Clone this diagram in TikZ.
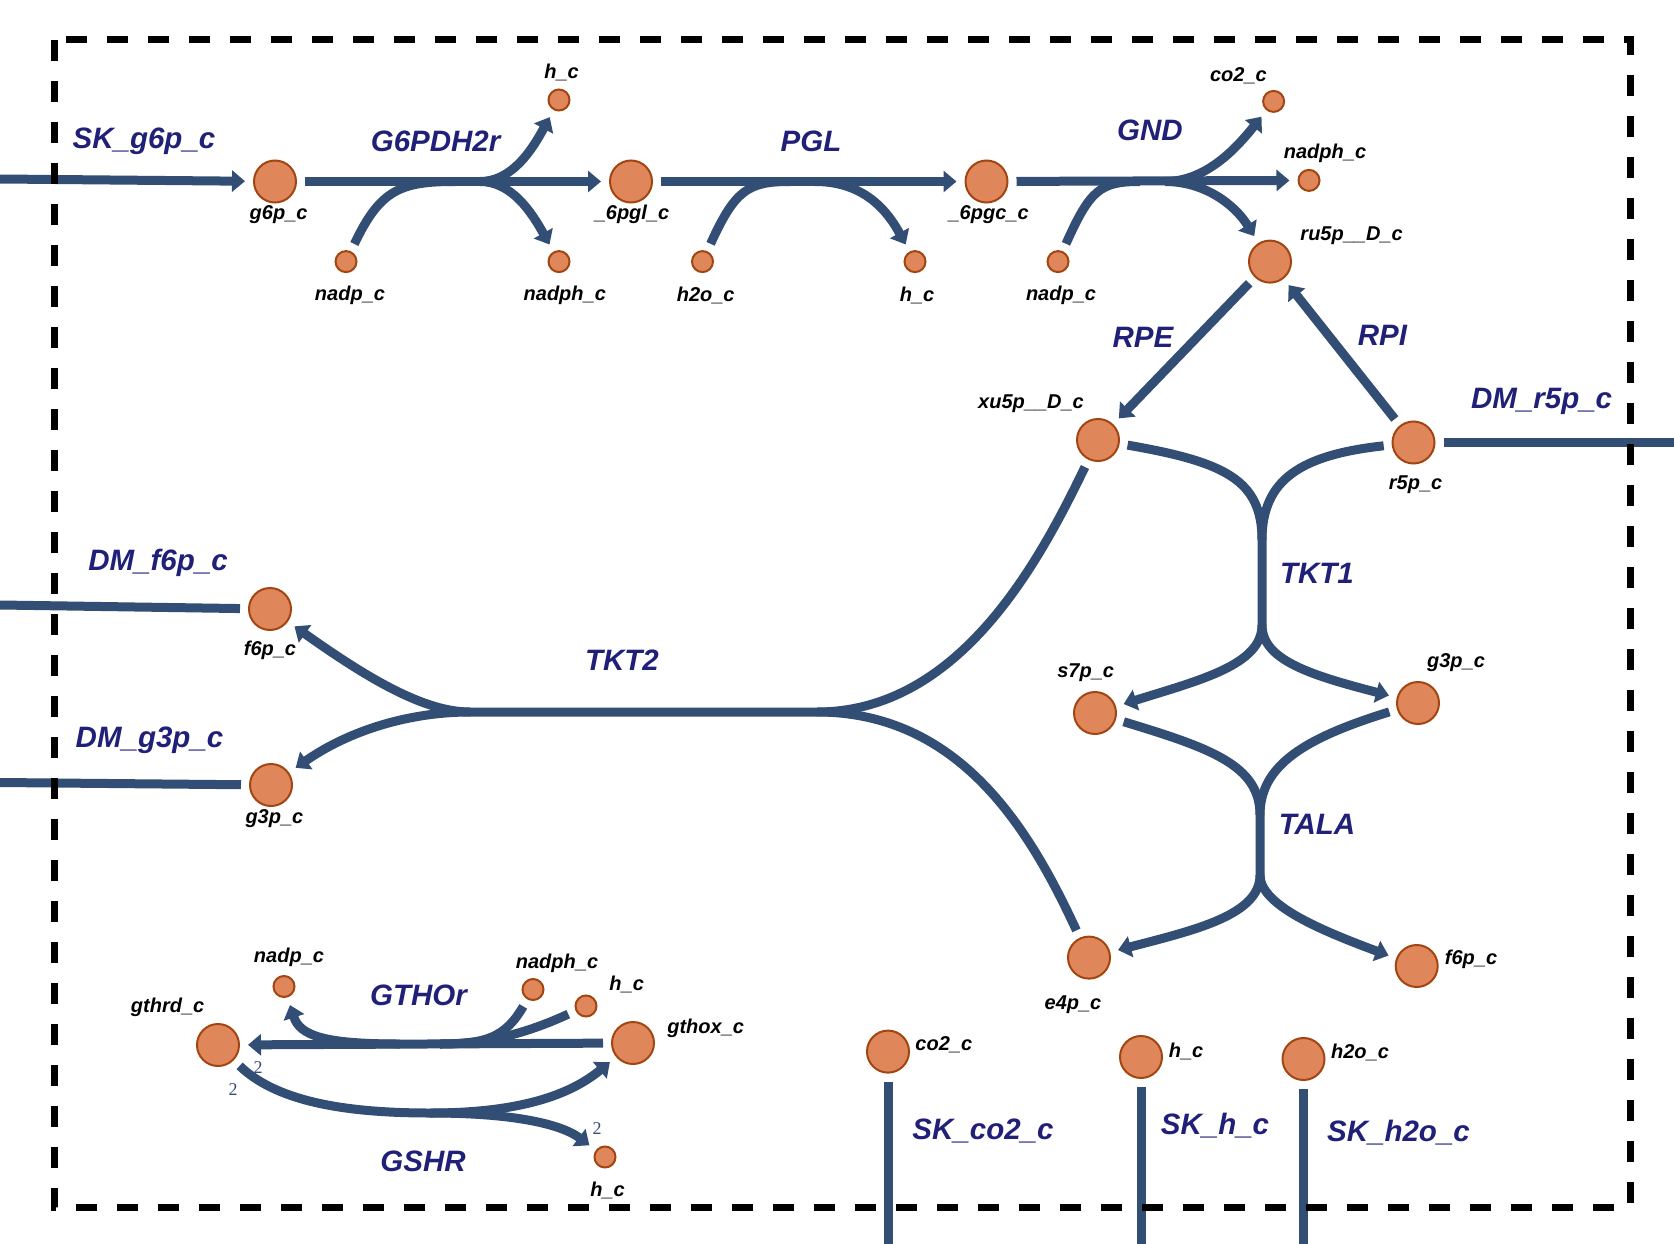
\documentclass[tikz,border=0pt]{standalone}
\usepackage{fontspec}
\setmainfont{Liberation Sans}
\newfontfamily\coeffont{Liberation Serif}
\usepackage{xcolor}
\usetikzlibrary{arrows.meta}
\definecolor{rxnblue}{RGB}{51,78,117}
\definecolor{metfill}{RGB}{224,134,91}
\definecolor{metedge}{RGB}{162,69,16}
\definecolor{rxnlabel}{RGB}{32,32,120}

\begin{document}
\begin{tikzpicture}[x=1pt, y=-1pt,
  met/.style={circle, draw=metedge, fill=metfill, line width=2pt, minimum size=42pt, inner sep=0pt, outer sep=9pt},
  metsm/.style={met, minimum size=21pt},
  rxn/.style={draw=rxnblue, line width=9pt},
  prod/.style={rxn, -{Triangle[length=13pt, width=21pt]}},
  mlab/.style={font=\fontsize{20}{24}\selectfont\bfseries\itshape},
  rlab/.style={text=rxnlabel, font=\fontsize{29.5}{34}\selectfont\bfseries\itshape},
  coef/.style={text=rxnblue, font=\coeffont\fontsize{18}{20}\selectfont}
]
\useasboundingbox (0,0) rectangle (1674,1244);

% Stoichiometry (drawn first, partly under the lines)
\node[coef] (cA) at (233,1090) {2};
\node[coef] (cB) at (258,1068) {2};
\node[coef] (cC) at (597,1129) {2};

% Metabolites: top row
\node[met] (g6p) at (275,181.5) {};
\node[met] (pgl) at (631,181.5) {};
\node[met] (pgc) at (986.5,181.5) {};
\node[met] (ru5p) at (1270,261.6) {};
\node[metsm] (hA) at (559,100) {};
\node[metsm] (nadpA) at (346,261.6) {};
\node[metsm] (nadphA) at (559,261.6) {};
\node[metsm] (h2oA) at (702.5,261.6) {};
\node[metsm] (hB) at (915,261.6) {};
\node[metsm] (nadpB) at (1058,261.6) {};
\node[metsm] (co2A) at (1273.6,101.4) {};
\node[metsm] (nadphB) at (1309,180.4) {};

% Metabolites: non-oxidative part
\node[met] (xu5p) at (1098,440) {};
\node[met] (r5p) at (1413.5,442.5) {};
\node[met] (f6pL) at (270,609) {};
\node[met] (g3pL) at (271,785) {};
\node[met] (s7p) at (1095,713) {};
\node[met] (g3pR) at (1418,703) {};
\node[met] (e4p) at (1089,957.6) {};
\node[met] (f6pR) at (1416.7,966) {};

% Metabolites: glutathione and sinks
\node[met] (gthrd) at (218,1045) {};
\node[met] (gthox) at (633,1043) {};
\node[metsm] (nadpC) at (284,986.5) {};
\node[metsm] (nadphC) at (533,989.5) {};
\node[metsm] (hC) at (586,1006) {};
\node[metsm] (hD) at (605,1157) {};
\node[met] (co2B) at (888,1051.6) {};
\node[met] (hE) at (1141,1057) {};
\node[met] (h2oB) at (1303.5,1059) {};

% Junction points
\coordinate (skg6p) at (0,179);
\coordinate (g6pdhIn) at (455,181.5);
\coordinate (g6pdhOut) at (480,181.5);
\coordinate (pglIn) at (790,181.5);
\coordinate (pglOut) at (815,181.5);
\coordinate (gndIn) at (1140,181.5);
\coordinate (gndOut) at (1165,181.5);
\coordinate (dmr5p) at (1674,442.5);
\coordinate (dmf6p) at (0,605);
\coordinate (dmg3p) at (0,782.5);
\coordinate (tkt1In) at (1262,540);
\coordinate (tkt1Out) at (1262,625);
\coordinate (talaIn) at (1260,815);
\coordinate (talaOut) at (1260,875);
\coordinate (tkt2In) at (817,712);
\coordinate (tkt2Out) at (470,712);
\coordinate (gthoIn) at (440,1044);
\coordinate (gthoOut) at (400,1044);
\coordinate (gshr) at (430,1113);
\coordinate (skco2) at (888,1244);
\coordinate (skh) at (1141,1244);
\coordinate (skh2o) at (1303.5,1244);

% Exchange reactions
\draw[prod] (skg6p) -- (g6p);
\draw[rxn] (r5p) -- (dmr5p);
\draw[rxn] (dmf6p) -- (f6pL);
\draw[rxn] (dmg3p) -- (g3pL);
\draw[rxn] (co2B) -- (skco2);
\draw[rxn] (hE) -- (skh);
\draw[rxn] (h2oB) -- (skh2o);

% G6PDH2r
\draw[prod] (g6p) -- (pgl);
\draw[rxn] (nadpA) .. controls (380,190) and (400,181.5) .. (g6pdhIn);
\draw[prod] (g6pdhOut) .. controls (512,181.5) and (532,150) .. (hA);
\draw[prod] (g6pdhOut) .. controls (512,181.5) and (532,213) .. (nadphA);

% PGL
\draw[prod] (pgl) -- (pgc);
\draw[rxn] (h2oA) .. controls (735,190) and (748,181.5) .. (pglIn);
\draw[prod] (pglOut) .. controls (865,181.5) and (888,212) .. (hB);

% GND
\draw[prod] (pgc) -- (nadphB);
\draw[rxn] (nadpB) .. controls (1090,190) and (1100,181.5) .. (gndIn);
\draw[prod] (gndOut) .. controls (1205,181.5) and (1235,150) .. (co2A);
\draw[prod] (gndOut) .. controls (1205,181.5) and (1235,205) .. (ru5p);

% RPE, RPI
\draw[prod] (ru5p) -- (xu5p);
\draw[prod] (r5p) -- (ru5p);

% TKT1
\draw[rxn] (xu5p) .. controls (1225,462) and (1262,480) .. (tkt1In) -- (tkt1Out);
\draw[rxn] (r5p) .. controls (1300,455) and (1262,480) .. (tkt1In);
\draw[prod] (tkt1Out) .. controls (1262,665) and (1200,680) .. (s7p);
\draw[prod] (tkt1Out) .. controls (1262,660) and (1310,675) .. (g3pR);

% TALA
\draw[rxn] (s7p) .. controls (1210,748) and (1260,765) .. (talaIn) -- (talaOut);
\draw[rxn] (g3pR) .. controls (1305,738) and (1260,765) .. (talaIn);
\draw[prod] (talaOut) .. controls (1260,915) and (1195,930) .. (e4p);
\draw[prod] (talaOut) .. controls (1260,905) and (1320,930) .. (f6pR);

% TKT2
\draw[rxn] (xu5p) .. controls (1040,560) and (960,712) .. (tkt2In) -- (tkt2Out);
\draw[rxn] (e4p) .. controls (1030,830) and (960,712) .. (tkt2In);
\draw[prod] (tkt2Out) .. controls (425,712) and (370,680) .. (f6pL);
\draw[prod] (tkt2Out) .. controls (410,712) and (350,730) .. (g3pL);

% GTHOr
\draw[prod] (gthox) -- (gthrd);
\draw[rxn] (nadphC) .. controls (505,1038) and (485,1044) .. (gthoIn);
\draw[rxn] (hC) .. controls (525,1034) and (485,1044) .. (gthoIn);
\draw[prod] (gthoOut) .. controls (325,1044) and (300,1036) .. (nadpC);

% GSHR
\draw[rxn] (gthrd) .. controls (275,1100) and (340,1113) .. (gshr);
\draw[prod] (gshr) .. controls (520,1113) and (570,1095) .. (gthox);
\draw[prod] (gshr) .. controls (525,1113) and (565,1127) .. (hD);

% Reaction labels
\node[rlab] (skg6pLab) at (144,141) {SK\_g6p\_c};
\node[rlab] (g6pdhLab) at (435.6,141) {G6PDH2r};
\node[rlab] (pglLab) at (811,141) {PGL};
\node[rlab] (gndLab) at (1150,130) {GND};
\node[rlab] (rpeLab) at (1143,337) {RPE};
\node[rlab] (rpiLab) at (1382.5,335) {RPI};
\node[rlab] (dmr5pLab) at (1541.6,401) {DM\_r5p\_c};
\node[rlab] (dmf6pLab) at (158,562.6) {DM\_f6p\_c};
\node[rlab] (dmg3pLab) at (149.5,740) {DM\_g3p\_c};
\node[rlab] (tkt2Lab) at (622,660) {TKT2};
\node[rlab] (tkt1Lab) at (1317,573) {TKT1};
\node[rlab] (talaLab) at (1317,824) {TALA};
\node[rlab] (gthoLab) at (418.5,995) {GTHOr};
\node[rlab] (gshrLab) at (423,1161) {GSHR};
\node[rlab] (skco2Lab) at (983,1130.6) {SK\_co2\_c};
\node[rlab] (skhLab) at (1215,1126) {SK\_h\_c};
\node[rlab] (skh2oLab) at (1398.5,1132.7) {SK\_h2o\_c};

% Metabolite labels
\node[mlab] (g6pLab) at (278.6,214.6) {g6p\_c};
\node[mlab] (pglMLab) at (632,214.6) {\_6pgl\_c};
\node[mlab] (pgcLab) at (988.6,214.6) {\_6pgc\_c};
\node[mlab] (hALab) at (561.6,72.6) {h\_c};
\node[mlab] (nadpALab) at (350,295.7) {nadp\_c};
\node[mlab] (nadphALab) at (564.8,295.7) {nadph\_c};
\node[mlab] (h2oALab) at (705.7,295.7) {h2o\_c};
\node[mlab] (hBLab) at (917,295.7) {h\_c};
\node[mlab] (nadpBLab) at (1061,295.7) {nadp\_c};
\node[mlab] (co2ALab) at (1238.4,75.8) {co2\_c};
\node[mlab] (nadphBLab) at (1325,153.7) {nadph\_c};
\node[mlab] (ru5pLab) at (1351.6,236) {ru5p\_\_D\_c};
\node[mlab] (xu5pLab) at (1031,403.5) {xu5p\_\_D\_c};
\node[mlab] (r5pLab) at (1415.6,484.7) {r5p\_c};
\node[mlab] (f6pLLab) at (270,650) {f6p\_c};
\node[mlab] (g3pLLab) at (274.4,818.8) {g3p\_c};
\node[mlab] (s7pLab) at (1085.7,672.6) {s7p\_c};
\node[mlab] (g3pRLab) at (1456,663) {g3p\_c};
\node[mlab] (e4pLab) at (1073,1004.6) {e4p\_c};
\node[mlab] (f6pRLab) at (1471,959.8) {f6p\_c};
\node[mlab] (gthrdLab) at (167.6,1007.8) {gthrd\_c};
\node[mlab] (gthoxLab) at (705.7,1028) {gthox\_c};
\node[mlab] (nadpCLab) at (289,957.6) {nadp\_c};
\node[mlab] (nadphCLab) at (557,963) {nadph\_c};
\node[mlab] (hCLab) at (626.7,984.3) {h\_c};
\node[mlab] (hDLab) at (607.5,1190.4) {h\_c};
\node[mlab] (co2BLab) at (943.8,1045) {co2\_c};
\node[mlab] (hELab) at (1186,1051.6) {h\_c};
\node[mlab] (h2oBLab) at (1360,1052.6) {h2o\_c};

% Compartment border
\draw[black, line width=7pt, dash pattern=on 21pt off 20pt] (54,40) rectangle (1630,1207);
\end{tikzpicture}
\end{document}
